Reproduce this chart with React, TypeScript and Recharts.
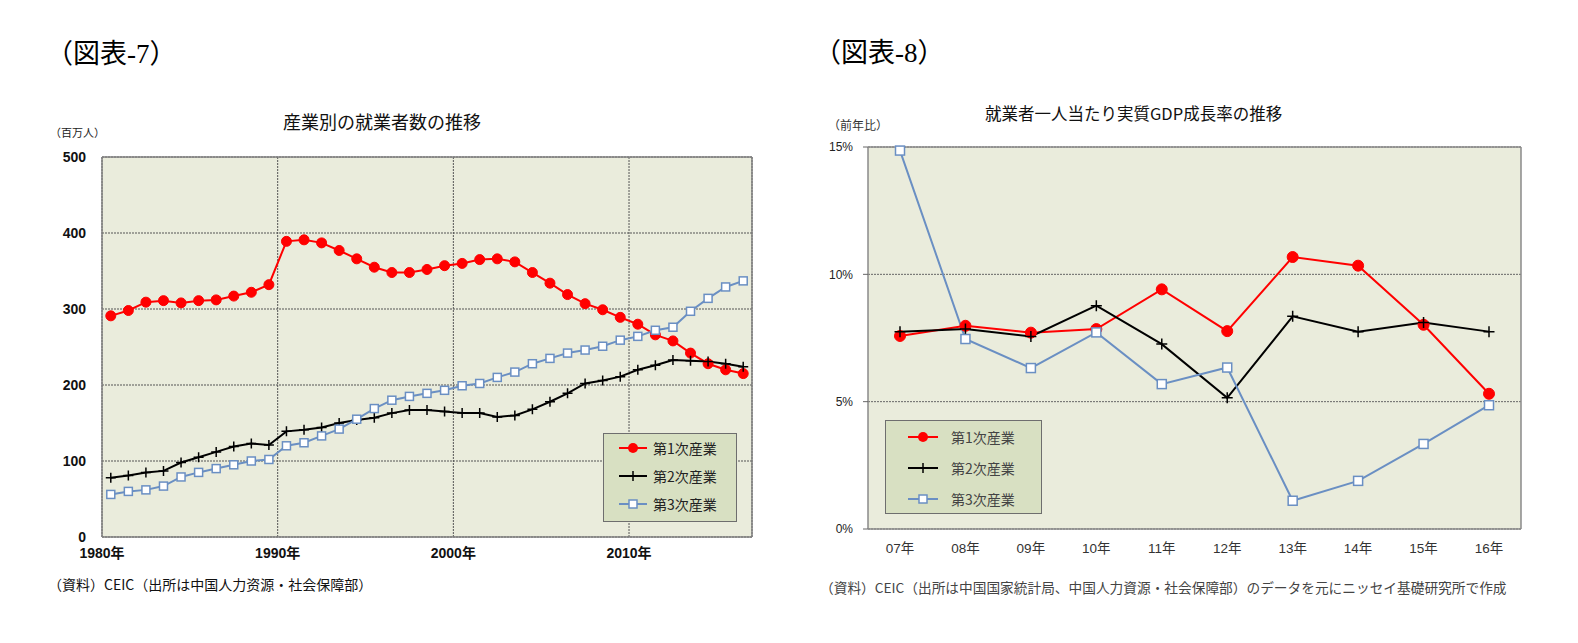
import React from 'react';
import { LineChart, Line, XAxis, YAxis, CartesianGrid, Legend } from 'recharts';

// ---------- Data: chart 7 (employment by industry, million persons) ----------
const years = [
  1980, 1981, 1982, 1983, 1984, 1985, 1986, 1987, 1988, 1989,
  1990, 1991, 1992, 1993, 1994, 1995, 1996, 1997, 1998, 1999,
  2000, 2001, 2002, 2003, 2004, 2005, 2006, 2007, 2008, 2009,
  2010, 2011, 2012, 2013, 2014, 2015, 2016,
];
const primaryWorkers = [
  291, 298, 309, 311, 308, 311, 312, 317, 322, 332,
  389, 391, 387, 377, 366, 355, 348, 348, 352, 357,
  360, 365, 366, 362, 348, 334, 319, 307, 299, 289,
  280, 266, 258, 242, 228, 220, 215,
];
const secondaryWorkers = [
  78, 81, 85, 87, 98, 105, 112, 119, 123, 121,
  139, 141, 144, 150, 154, 157, 163, 167, 167, 165,
  163, 163, 158, 160, 168, 178, 189, 202, 206, 211,
  220, 226, 233, 232, 231, 228, 224,
];
const tertiaryWorkers = [
  56, 60, 62, 67, 79, 85, 90, 95, 100, 102,
  120, 124, 133, 142, 155, 169, 180, 185, 189, 193,
  199, 202, 210, 217, 228, 235, 242, 246, 251, 259,
  264, 272, 276, 297, 314, 329, 337,
];
const employmentXTicks = [1980, 1990, 2000, 2010];
const employmentYTicks = [0, 100, 200, 300, 400, 500];

// ---------- Data: chart 8 (real GDP per worker growth, % y/y) ----------
const gdpCategories = ['07年', '08年', '09年', '10年', '11年', '12年', '13年', '14年', '15年', '16年'];
const gdpPrimary = [7.58, 7.98, 7.71, 7.85, 9.41, 7.77, 10.68, 10.34, 8.02, 5.31];
const gdpSecondary = [7.75, 7.85, 7.56, 8.77, 7.26, 5.15, 8.35, 7.75, 8.11, 7.75];
const gdpTertiary = [14.86, 7.46, 6.32, 7.72, 5.69, 6.34, 1.11, 1.89, 3.34, 4.86];
const gdpYTicks = [0, 5, 10, 15];

const seriesNames = ['第1次産業', '第2次産業', '第3次産業'];

// ---------- Styles ----------
const FONT_JP = '"Noto Sans CJK JP", "Noto Sans", sans-serif';
const FONT_NUM = '"Liberation Sans", Arial, "Noto Sans CJK JP", sans-serif';
const FONT_SERIF = '"Liberation Serif", "Noto Sans CJK JP", serif';
const RED = '#ff0000';
const BLACK = '#000000';
const BLUE = '#6a8fc3';
const PLOT_BG = '#eaecdc';
const LEGEND_BG = '#d8e0c2';

const employmentData = years.map((y, i) => ({
  x: y + 0.5,
  primary: primaryWorkers[i],
  secondary: secondaryWorkers[i],
  tertiary: tertiaryWorkers[i],
}));

const gdpData = gdpCategories.map((c, i) => ({
  label: c,
  primary: gdpPrimary[i],
  secondary: gdpSecondary[i],
  tertiary: gdpTertiary[i],
}));

// ---------- Markers ----------
const circleDot = (r: number, color: string) => (props: any) => {
  const { cx, cy, index } = props;
  if (cx == null || cy == null) return <g key={`c${index}`} />;
  return <circle key={`c${index}`} cx={cx} cy={cy} r={r} fill={color} stroke={color} strokeWidth={1} />;
};
const plusDot = (s: number, color: string) => (props: any) => {
  const { cx, cy, index } = props;
  if (cx == null || cy == null) return <g key={`p${index}`} />;
  return (
    <path
      key={`p${index}`}
      d={`M${cx - s},${cy}H${cx + s}M${cx},${cy - s}V${cy + s}`}
      stroke={color}
      strokeWidth={1.5}
      fill="none"
    />
  );
};
const squareDot = (s: number, color: string) => (props: any) => {
  const { cx, cy, index } = props;
  if (cx == null || cy == null) return <g key={`s${index}`} />;
  return (
    <rect key={`s${index}`} x={cx - s} y={cy - s} width={2 * s} height={2 * s} fill="#ffffff" stroke={color} strokeWidth={1.5} />
  );
};

const LegendIcon = ({ kind, width }: { kind: number; width: number }) => {
  const mid = width / 2;
  const color = kind === 0 ? RED : kind === 1 ? BLACK : BLUE;
  return (
    <svg width={width} height={14} style={{ display: 'block' }}>
      <line x1={0} y1={7} x2={width} y2={7} stroke={color} strokeWidth={2} />
      {kind === 0 && <circle cx={mid} cy={7} r={5} fill={RED} />}
      {kind === 1 && <path d={`M${mid - 5},7H${mid + 5}M${mid},2V12`} stroke={BLACK} strokeWidth={1.5} />}
      {kind === 2 && <rect x={mid - 4} y={3} width={8} height={8} fill="#fff" stroke={BLUE} strokeWidth={1.5} />}
    </svg>
  );
};

const makeLegend = (opts: {
  w: number; h: number; padTop: number; rowGap: number; iconLeft: number; iconW: number; textGap: number; color: string;
}) => () => (
  <div
    style={{
      width: opts.w,
      height: opts.h,
      boxSizing: 'border-box',
      border: '1px solid #6e6e6e',
      background: LEGEND_BG,
      position: 'relative',
    }}
  >
    {seriesNames.map((name, i) => (
      <div
        key={name}
        style={{
          position: 'absolute',
          left: opts.iconLeft,
          top: opts.padTop + i * opts.rowGap - 9,
          height: 18,
          display: 'flex',
          alignItems: 'center',
        }}
      >
        <LegendIcon kind={i} width={opts.iconW} />
        <span
          style={{
            marginLeft: opts.textGap,
            fontFamily: FONT_JP,
            fontSize: 14,
            color: opts.color,
            lineHeight: '18px',
            whiteSpace: 'nowrap',
          }}
        >
          {name}
        </span>
      </div>
    ))}
  </div>
);

const frameV = (p: any) => {
  const o = p && p.offset;
  if (!o) return [];
  return [o.left, o.left + o.width];
};
const frameH = (p: any) => {
  const o = p && p.offset;
  if (!o) return [];
  return [o.top, o.top + o.height];
};

const textStyle = (left: number, top: number, size: number, family: string, color = '#000', extra: any = {}) => ({
  position: 'absolute' as const,
  left,
  top,
  fontSize: size,
  fontFamily: family,
  color,
  lineHeight: 1,
  whiteSpace: 'nowrap' as const,
  ...extra,
});

export default function App() {
  return (
    <div style={{ position: 'absolute', left: 0, top: 0, width: 1578, height: 643, background: '#fff', overflow: 'hidden' }}>
      {/* Chart 7 */}
      <div style={textStyle(46, 41, 27, FONT_SERIF)}>（図表-7）</div>
      <div style={textStyle(283, 112, 18, FONT_JP, '#111')}>産業別の就業者数の推移</div>
      <div style={textStyle(50, 127, 11, FONT_JP, '#222')}>（百万人）</div>

      <div style={{ position: 'absolute', left: 0, top: 0 }}>
        <LineChart width={780} height={600} data={employmentData} margin={{ top: 157, right: 28, bottom: 33, left: 52 }}>
          <CartesianGrid fill={PLOT_BG} stroke="#555" strokeDasharray="2 1" />
          <CartesianGrid stroke="#808080" strokeWidth={1.5} verticalCoordinatesGenerator={frameV} horizontalCoordinatesGenerator={frameH} />
          <XAxis
            dataKey="x"
            type="number"
            domain={[1980, 2017]}
            ticks={employmentXTicks}
            tickFormatter={(v: number) => `${v}年`}
            axisLine={false}
            tickLine={false}
            tickSize={0}
            tickMargin={11}
            height={30}
            tick={{ fontSize: 14, fontWeight: 'bold', fill: '#111', fontFamily: FONT_NUM }}
            interval={0}
          />
          <YAxis
            type="number"
            domain={[0, 500]}
            ticks={employmentYTicks}
            axisLine={false}
            tickLine={false}
            tickSize={0}
            tickMargin={16}
            width={50}
            tick={{ fontSize: 14, fontWeight: 'bold', fill: '#111', fontFamily: FONT_NUM }}
            interval={0}
          />
          <Line dataKey="primary" name={seriesNames[0]} stroke={RED} strokeWidth={2} dot={circleDot(5, RED)} isAnimationActive={false} />
          <Line dataKey="secondary" name={seriesNames[1]} stroke={BLACK} strokeWidth={2} dot={plusDot(5, BLACK)} isAnimationActive={false} />
          <Line dataKey="tertiary" name={seriesNames[2]} stroke={BLUE} strokeWidth={2} dot={squareDot(4, BLUE)} isAnimationActive={false} />
          <Legend
            layout="vertical"
            align="center"
            verticalAlign="middle"
            wrapperStyle={{ left: 603, top: 433, width: 134, height: 89 }}
            content={makeLegend({ w: 134, h: 89, padTop: 14, rowGap: 28, iconLeft: 15, iconW: 28, textGap: 6, color: '#222' })}
          />
        </LineChart>
      </div>
      <div style={textStyle(48, 577, 14, FONT_JP, '#111')}>（資料）CEIC（出所は中国人力资源・社会保障部）</div>

      {/* Chart 8 */}
      <div style={textStyle(814, 40, 27, FONT_SERIF)}>（図表-8）</div>
      <div style={textStyle(985, 105, 16.5, FONT_JP, '#111')}>就業者一人当たり実質GDP成長率の推移</div>
      <div style={textStyle(828, 119, 12, FONT_JP, '#333')}>（前年比）</div>

      <div style={{ position: 'absolute', left: 790, top: 0 }}>
        <LineChart width={760} height={600} data={gdpData} margin={{ top: 147, right: 29, bottom: 41, left: 38 }}>
          <CartesianGrid fill={PLOT_BG} stroke="#666" strokeDasharray="2 1" vertical={false} />
          <CartesianGrid stroke="#8a8a8a" strokeWidth={1.5} verticalCoordinatesGenerator={frameV} horizontalCoordinatesGenerator={frameH} />
          <XAxis
            dataKey="label"
            type="category"
            padding={{ left: 32, right: 32 }}
            axisLine={false}
            tickLine={false}
            tickSize={0}
            tickMargin={14}
            height={30}
            tick={{ fontSize: 13.5, fill: '#333', fontFamily: FONT_NUM }}
            interval={0}
          />
          <YAxis
            type="number"
            domain={[0, 15]}
            ticks={gdpYTicks}
            tickFormatter={(v: number) => `${v}%`}
            axisLine={false}
            tickLine={{ stroke: '#666' }}
            tickSize={5}
            tickMargin={10}
            width={40}
            tick={{ fontSize: 12, fill: '#222', fontFamily: FONT_NUM }}
            interval={0}
          />
          <Line dataKey="primary" name={seriesNames[0]} stroke={RED} strokeWidth={2} dot={circleDot(5.5, RED)} isAnimationActive={false} />
          <Line dataKey="secondary" name={seriesNames[1]} stroke={BLACK} strokeWidth={2} dot={plusDot(5.5, BLACK)} isAnimationActive={false} />
          <Line dataKey="tertiary" name={seriesNames[2]} stroke={BLUE} strokeWidth={2} dot={squareDot(4.5, BLUE)} isAnimationActive={false} />
          <Legend
            layout="vertical"
            align="center"
            verticalAlign="middle"
            wrapperStyle={{ left: 95, top: 420, width: 157, height: 94 }}
            content={makeLegend({ w: 157, h: 94, padTop: 16, rowGap: 31, iconLeft: 22, iconW: 30, textGap: 13, color: '#444' })}
          />
        </LineChart>
      </div>
      <div style={textStyle(820, 581, 13.7, FONT_JP, '#444')}>
        （資料）CEIC（出所は中国国家統計局、中国人力資源・社会保障部）のデータを元にニッセイ基礎研究所で作成
      </div>
    </div>
  );
}
